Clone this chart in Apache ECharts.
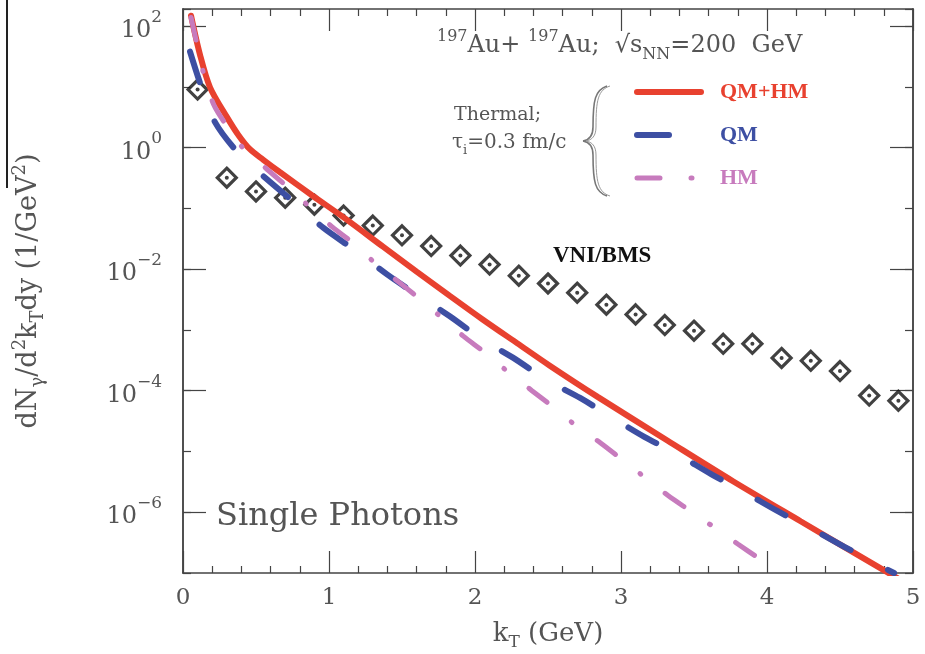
<!DOCTYPE html>
<html>
<head>
<meta charset="utf-8">
<script src="https://cdn.jsdelivr.net/npm/echarts@6.0.0/dist/echarts.min.js"></script>
<style>
html, body { margin: 0; padding: 0; background: #fff; }
#main { width: 925px; height: 654px; }
</style>
</head>
<body>
<div id="main"></div>
<script>
// kT in GeV, yields dN/d2kTdy in 1/GeV^2
var kTQmHm = [0.055, 0.116, 0.185, 0.30, 0.38, 0.46, 0.55, 0.66, 0.89, 1.10, 1.37, 1.60, 1.83, 2.05, 2.29, 2.51, 2.84, 3.32, 3.77, 4.23, 4.89];
var yQmHm  = [148, 34, 9.8, 3.2, 1.6, 0.93, 0.63, 0.40, 0.16, 0.071, 0.0234, 0.0091, 0.0036, 0.0015, 6.0e-4, 2.6e-4, 7.9e-5, 1.5e-5, 3.2e-6, 7.1e-7, 8.3e-8];

var kTQm = [0.048, 0.12, 0.22, 0.39, 0.575, 0.78, 0.96, 1.19, 1.40, 1.62, 1.83, 2.05, 2.26, 2.49, 2.72, 2.94, 3.16, 3.39, 3.62, 3.85, 4.08, 4.32, 4.53, 4.79, 4.87];
var yQm  = [38, 11, 2.6, 0.76, 0.30, 0.115, 0.048, 0.0195, 0.0081, 0.00355, 0.00166, 6.9e-4, 3.5e-4, 1.5e-4, 7.6e-5, 3.6e-5, 1.74e-5, 8.9e-6, 4.2e-6, 2.1e-6, 1.02e-6, 5.1e-7, 2.7e-7, 1.26e-7, 1.0e-7];

var kTHm = [0.055, 0.10, 0.14, 0.21, 0.31, 0.42, 0.575, 0.72, 1.02, 1.16, 1.33, 1.42, 1.61, 1.77, 1.92, 2.07, 2.23, 2.39, 2.53, 2.68, 2.86, 3.00, 3.16, 3.32, 3.47, 3.64, 3.80, 3.97];
var yHm  = [138, 45, 17, 5.1, 2.1, 0.93, 0.44, 0.22, 0.050, 0.0275, 0.0117, 0.0079, 0.0034, 0.0016, 7.9e-4, 4.2e-4, 2.0e-4, 1.0e-4, 5.5e-5, 2.8e-5, 1.38e-5, 7.6e-6, 3.8e-6, 1.9e-6, 1.07e-6, 5.6e-7, 3.0e-7, 1.58e-7];

var kTVni = [0.1, 0.3, 0.5, 0.7, 0.9, 1.1, 1.3, 1.5, 1.7, 1.9, 2.1, 2.3, 2.5, 2.7, 2.9, 3.1, 3.3, 3.5, 3.7, 3.9, 4.1, 4.3, 4.5, 4.7, 4.9];
var yVni  = [9.0, 0.32, 0.19, 0.15, 0.115, 0.076, 0.052, 0.036, 0.024, 0.0167, 0.0119, 0.0078, 0.0058, 0.0041, 0.0026, 0.0018, 0.0012, 9.7e-4, 5.9e-4, 5.9e-4, 3.45e-4, 3.1e-4, 2.1e-4, 8.3e-5, 6.8e-5];

var majorDecades = [-6, -4, -2, 0, 2];

var serif = "'DejaVu Serif', serif";
var axisColor = '#444';
var textColor = '#555';
var red = '#e8412f', blue = '#3d4fa3', pink = '#c77bbd';
var blueDash = [32, 42], pinkDash = [23, 31, 1, 31];

// y axis is log10 of the yield
function toPoints(xs, ys) {
    return xs.map(function (x, i) { return [x, Math.log10(ys[i])]; });
}

var myChart = echarts.init(document.getElementById('main'));

var supRich = {
    b: { fontFamily: serif, fontSize: 24, color: textColor, lineHeight: 34, verticalAlign: 'bottom' },
    s: { fontFamily: serif, fontSize: 17, color: textColor, lineHeight: 17, verticalAlign: 'top' }
};

function xAxisOf(pos, showLabel) {
    return {
        type: 'value', position: pos, min: 0, max: 5, interval: 1,
        axisLine: { show: true, onZero: false, lineStyle: { color: axisColor, width: 1.5 } },
        axisTick: { show: true, inside: true, length: 22, lineStyle: { color: axisColor, width: 1.2 } },
        minorTick: { show: true, splitNumber: 5, length: 7, lineStyle: { color: axisColor, width: 1.2 } },
        axisLabel: { show: showLabel, margin: 14, fontFamily: serif, fontSize: 23, color: textColor },
        splitLine: { show: false }
    };
}

function yAxisOf(pos, major, showLabel) {
    var ax = {
        type: 'value', position: pos, min: -7, max: 2.28, interval: 1,
        axisLine: { show: true, onZero: false, lineStyle: { color: axisColor, width: 1.5 } },
        axisTick: { show: true, inside: true, length: major ? 23 : 8, lineStyle: { color: axisColor, width: 1.2 } },
        axisLabel: { show: false },
        splitLine: { show: false }
    };
    if (major) {
        ax.axisTick.customValues = majorDecades;
    }
    if (showLabel) {
        ax.axisLabel = {
            show: true, margin: 21,
            formatter: function (v) {
                if (!Number.isInteger(v) || v % 2 !== 0) return '';
                var e = v < 0 ? '\u2212' + (-v) : String(v);
                return '{b|10}{s|' + e + '}';
            },
            rich: supRich
        };
        ax.name = '{b|dN}{sub|\u03b3}{b|/d}{sup|2}{b|k}{sub|T}{b|dy (1/GeV}{sup|2}{b|)}';
        ax.nameLocation = 'middle';
        ax.nameGap = 136;
        ax.nameTextStyle = {
            rich: {
                b: { fontFamily: serif, fontSize: 27, color: textColor, lineHeight: 36 },
                sub: { fontFamily: serif, fontSize: 18, color: textColor, lineHeight: 18, verticalAlign: 'bottom' },
                sup: { fontFamily: serif, fontSize: 18, color: textColor, lineHeight: 18, verticalAlign: 'top' }
            }
        };
    }
    return ax;
}

var xBottom = xAxisOf('bottom', true);
xBottom.name = '{b|k}{sub|T}{b| (GeV)}';
xBottom.nameLocation = 'middle';
xBottom.nameGap = 44;
xBottom.nameTextStyle = {
    rich: {
        b: { fontFamily: serif, fontSize: 26, color: textColor, lineHeight: 34 },
        sub: { fontFamily: serif, fontSize: 17, color: textColor, lineHeight: 17, verticalAlign: 'bottom' }
    }
};

// curly brace beside the legend, drawn as bezier pieces
function brace(dx, color, w) {
    var segs = [
        [607, 86, 593, 127, 595, 90, 593, 100],
        [593, 127, 583, 141, 593, 136, 589, 140],
        [583, 141, 593, 155, 589, 142, 593, 146],
        [593, 155, 607, 196, 593, 182, 595, 192]
    ];
    return segs.map(function (s) {
        return {
            type: 'bezierCurve',
            shape: { x1: s[0] + dx, y1: s[1], x2: s[2] + dx, y2: s[3], cpx1: s[4] + dx, cpy1: s[5], cpx2: s[6] + dx, cpy2: s[7] },
            style: { fill: 'none', stroke: color, lineWidth: w }
        };
    });
}

var graphics = [
    {
        type: 'text', x: 437, y: 46,
        style: {
            text: '{s|197}{b|Au+ }{s|197}{b|Au;  \u221as}{u|NN}{b|=200  GeV}',
            verticalAlign: 'middle',
            rich: {
                b: { fontFamily: serif, fontSize: 24, fill: textColor, lineHeight: 34 },
                s: { fontFamily: serif, fontSize: 16, fill: textColor, lineHeight: 16, verticalAlign: 'top' },
                u: { fontFamily: serif, fontSize: 16, fill: textColor, lineHeight: 16, verticalAlign: 'bottom' }
            }
        }
    },
    {
        type: 'text', x: 454, y: 115,
        style: { text: 'Thermal;', font: '19px ' + serif, fill: textColor, verticalAlign: 'middle' }
    },
    {
        type: 'text', x: 452, y: 143,
        style: {
            text: '{b|\u03c4}{u|i}{b|=0.3 fm/c}',
            verticalAlign: 'middle',
            rich: {
                b: { fontFamily: serif, fontSize: 20, fill: textColor, lineHeight: 28 },
                u: { fontFamily: serif, fontSize: 13, fill: textColor, lineHeight: 13, verticalAlign: 'bottom' }
            }
        }
    },
    {
        type: 'text', x: 553, y: 256,
        style: { text: 'VNI/BMS', font: 'bold 23px "Liberation Serif", serif', fill: '#111', verticalAlign: 'middle' }
    },
    {
        type: 'text', x: 216, y: 517,
        style: { text: 'Single Photons', font: '32px ' + serif, fill: textColor, verticalAlign: 'middle' }
    },
    {
        type: 'line',
        shape: { x1: 7, y1: 0, x2: 7, y2: 188 },
        style: { stroke: '#222', lineWidth: 2 }
    }
].concat(brace(0, '#777', 1.6), brace(3, '#999', 1));

var option = {
    animation: false,
    backgroundColor: '#fff',
    grid: { left: 183, right: 12, top: 9, bottom: 81, outerBoundsMode: 'none' },
    xAxis: [xBottom, xAxisOf('top', false)],
    yAxis: [
        yAxisOf('left', false, true),
        yAxisOf('left', true, false),
        yAxisOf('right', false, false),
        yAxisOf('right', true, false)
    ],
    legend: {
        orient: 'vertical', left: 629, top: 76,
        itemWidth: 64, itemHeight: 14, itemGap: 21,
        itemStyle: { color: 'rgba(0,0,0,0)', borderWidth: 0, opacity: 0 },
        textStyle: { fontFamily: "'Liberation Serif', serif", fontWeight: 'bold', fontSize: 22, padding: [0, 0, 0, 14] },
        data: [
            { name: 'QM+HM', textStyle: { color: red }, lineStyle: { width: 6, cap: 'round' } },
            { name: 'QM', textStyle: { color: blue }, lineStyle: { width: 6, cap: 'round', type: blueDash } },
            { name: 'HM', textStyle: { color: pink }, lineStyle: { width: 5, cap: 'round', type: pinkDash } }
        ]
    },
    series: [
        {
            name: 'QM+HM', type: 'line', data: toPoints(kTQmHm, yQmHm),
            symbol: 'none', smooth: 0.3, itemStyle: { color: red },
            lineStyle: { color: red, width: 6, cap: 'round' }
        },
        {
            name: 'QM', type: 'line', data: toPoints(kTQm, yQm),
            symbol: 'none', smooth: 0.3, itemStyle: { color: blue },
            lineStyle: { color: blue, width: 6, cap: 'round', type: blueDash }
        },
        {
            name: 'HM', type: 'line', data: toPoints(kTHm, yHm),
            symbol: 'none', smooth: 0.3, itemStyle: { color: pink },
            lineStyle: { color: pink, width: 5, cap: 'round', type: pinkDash }
        },
        {
            name: 'VNI/BMS', type: 'scatter', data: toPoints(kTVni, yVni),
            symbol: 'diamond', symbolSize: 19,
            itemStyle: { color: '#fff', borderColor: '#111', borderWidth: 3.2 }
        },
        {
            name: 'VNI/BMS centre', type: 'scatter', data: toPoints(kTVni, yVni),
            symbol: 'circle', symbolSize: 4, itemStyle: { color: '#111' }
        }
    ],
    graphic: graphics
};

myChart.setOption(option);
</script>
</body>
</html>
